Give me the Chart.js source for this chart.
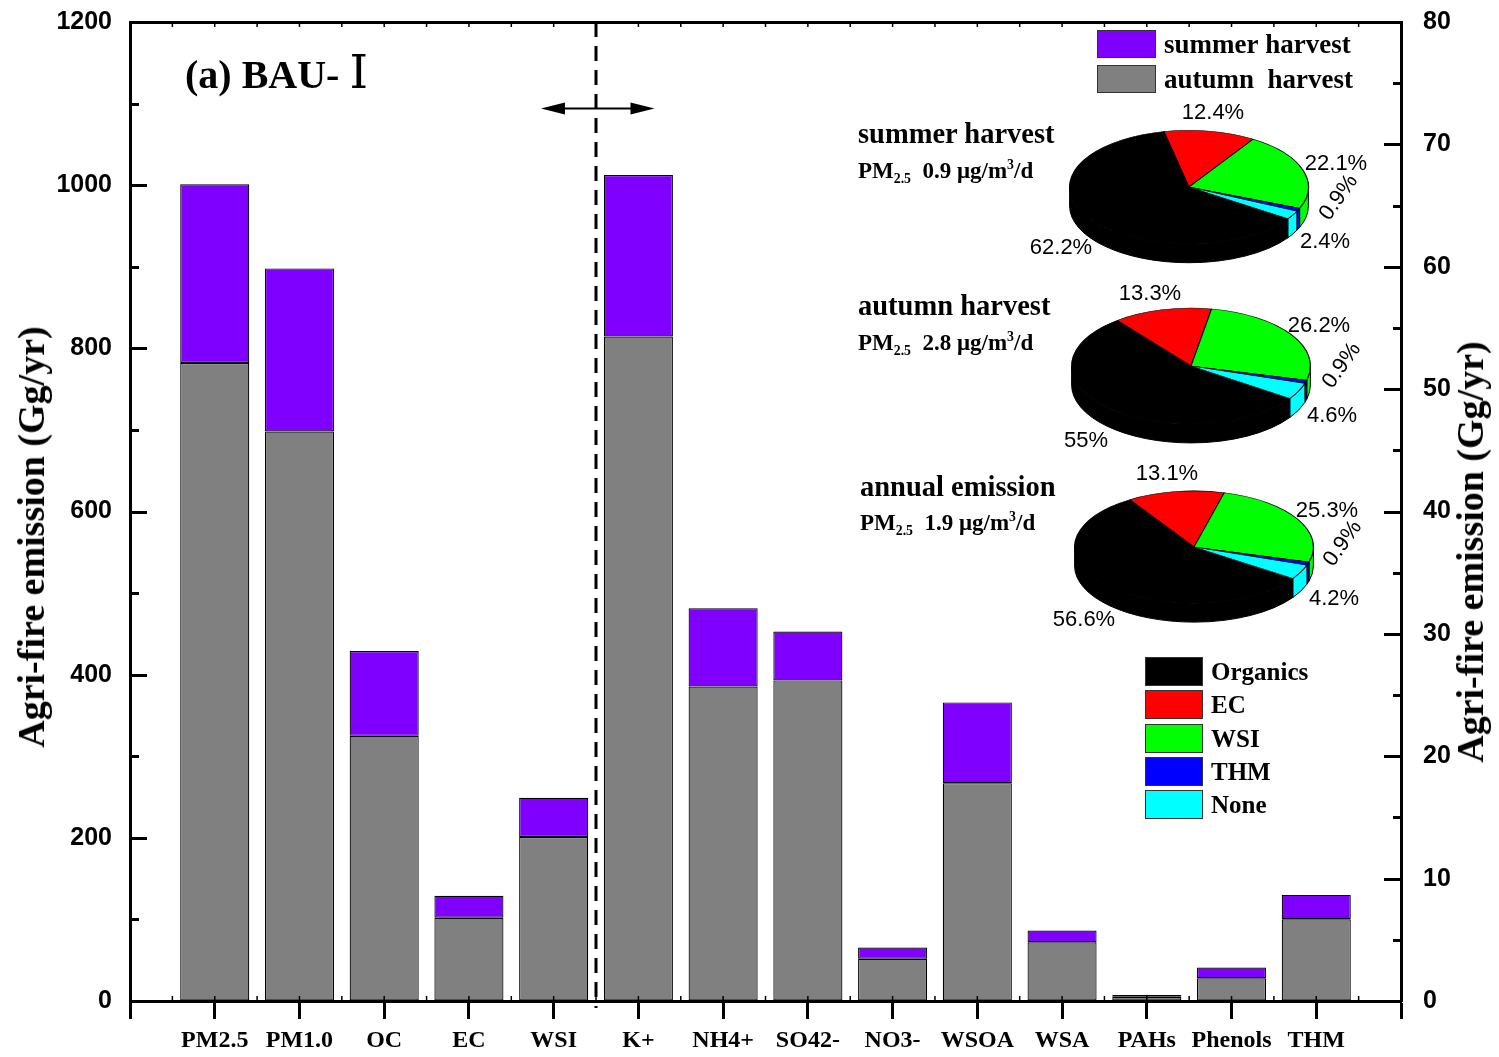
<!DOCTYPE html>
<html><head><meta charset="utf-8">
<script src="https://cdn.jsdelivr.net/npm/chart.js@4.4.0/dist/chart.umd.min.js"></script>
<style>
html,body{margin:0;padding:0;background:#fff;}
#wrap{position:relative;width:1499px;height:1057px;overflow:hidden;background:#fff;}
#main{position:absolute;left:0;top:0;}
.pie{position:absolute;}
.t{position:absolute;white-space:nowrap;color:#000;line-height:1;}
.serif{font-family:"Liberation Serif","Times New Roman",serif;font-weight:bold;}
.sans{font-family:"Liberation Sans",Arial,sans-serif;}
.box{position:absolute;border:1px solid #333;box-sizing:border-box;}
.vc{transform:translateY(-50%);}
sub,sup{font-size:60%;line-height:0;}
.roman{font-family:"DejaVu Serif","Liberation Serif",serif;font-weight:normal;font-size:47px;margin-left:10px;}
</style></head><body><div id="wrap">
<canvas id="main" width="1499" height="1057"></canvas>
<canvas class="pie" id="pie0" width="244" height="244"></canvas>
<canvas class="pie" id="pie1" width="244" height="244"></canvas>
<canvas class="pie" id="pie2" width="244" height="244"></canvas>

<div class="t serif vc" style="left:185px;top:71px;font-size:40px;" id="ttl"></div>

<div class="t serif" id="yt1" style="left:31px;top:537px;font-size:38px;transform:translate(-50%,-50%) rotate(-90deg);"></div>
<div class="t serif" id="yt2" style="left:1470px;top:552px;font-size:38px;transform:translate(-50%,-50%) rotate(-90deg);"></div>

<div id="legendBars"></div>
<div id="legendPie"></div>
<div id="pieText"></div>
</div>
<script>
// ---------------- data ----------------
const categories = ['PM2.5','PM1.0','OC','EC','WSI','K+','NH4+','SO42-','NO3-','WSOA','WSA','PAHs','Phenols','THM'];
const leftAxisCount = 5;               // first 5 categories use the left axis
const autumnHarvest = [782, 698, 325, 102, 201, 54.3, 25.7, 26.2, 3.45, 17.8, 4.8, 0.35, 1.86, 6.68];
const summerHarvest = [219, 200, 104, 27, 48, 13.2, 6.4, 4.0, 0.92, 6.6, 0.96, 0.14, 0.87, 1.99];
const leftAxisRange = [0, 1200];
const leftAxisStep = 200;
const rightAxisRange = [0, 80];
const rightAxisStep = 10;
const seriesNames = ['summer harvest', 'autumn  harvest'];
const titleMain = '(a) BAU-';
const titleRoman = 'Ⅰ';
const yTitle = 'Agri-fire emission (Gg/yr)';

const pieComponents = ['Organics','EC','WSI','THM','None'];
const pieTitles = ['summer harvest','autumn harvest','annual emission'];
const pieConc = ['0.9','2.8','1.9'];
const pieSummer = [62.2, 12.4, 22.1, 0.9, 2.4];
const pieAutumn = [55, 13.3, 26.2, 0.9, 4.6];
const pieAnnual = [56.6, 13.1, 25.3, 0.9, 4.2];
const pieLabelsTxt = [
  ['62.2%','12.4%','22.1%','0.9%','2.4%'],
  ['55%','13.3%','26.2%','0.9%','4.6%'],
  ['56.6%','13.1%','25.3%','0.9%','4.2%']
];
const dividerX = 5.5;
const arrowSpan = [4.85, 6.19];
const arrowLevel = 1095;

// ---------------- styles ----------------
const purple = '#7F00FF', grey = '#808080';
const pieColors = ['#000000','#FF0000','#00FF00','#0000FF','#00FFFF'];

document.getElementById('ttl').innerHTML = titleMain + '<span class="roman">' + titleRoman + '</span>';
document.getElementById('yt1').textContent = yTitle;
document.getElementById('yt2').textContent = yTitle;

const pts = (arr, from, to) => arr.slice(from, to).map((v, i) => ({x: from + i + 1, y: v}));
const barCommon = {grouped:false, borderColor:'#000', borderWidth:1.2, barPercentage:0.815, categoryPercentage:1, borderSkipped:false};
const n = categories.length;

const axisDeco = {
  id:'axisDeco',
  afterDatasetsDraw(chart){
    const ctx = chart.ctx, a = chart.chartArea;
    const sx = chart.scales.x, sy = chart.scales.y, sy2 = chart.scales.y2;
    ctx.save();
    ctx.strokeStyle = '#000';
    ctx.lineWidth = 3;
    for (let v = leftAxisRange[0]; v <= leftAxisRange[1]; v += leftAxisStep/2){
      const y = Math.round(sy.getPixelForValue(v)) + 0.5;
      const len = (v % leftAxisStep === 0) ? 17 : 9;
      ctx.beginPath(); ctx.moveTo(a.left, y); ctx.lineTo(a.left + len, y); ctx.stroke();
    }
    for (let v = rightAxisRange[0]; v <= rightAxisRange[1]; v += rightAxisStep/2){
      const y = Math.round(sy2.getPixelForValue(v)) + 0.5;
      const len = (v % rightAxisStep === 0) ? 17 : 8;
      ctx.beginPath(); ctx.moveTo(a.right, y); ctx.lineTo(a.right - len, y); ctx.stroke();
    }
    ctx.lineWidth = 1.5;
    for (let v = 0.5; v < n + 1; v += 0.5){
      const x = sx.getPixelForValue(v);
      ctx.beginPath(); ctx.moveTo(x, a.top); ctx.lineTo(x, a.top + 5); ctx.stroke();
      ctx.beginPath(); ctx.moveTo(x, a.bottom); ctx.lineTo(x, a.bottom - 5); ctx.stroke();
    }
    const dx = Math.round(sx.getPixelForValue(dividerX));
    ctx.lineWidth = 3;
    ctx.setLineDash([15, 9]);
    ctx.beginPath(); ctx.moveTo(dx, a.top); ctx.lineTo(dx, a.bottom + 7); ctx.stroke();
    ctx.setLineDash([]);
    const ay = Math.round(sy.getPixelForValue(arrowLevel)) + 0.5;
    const x1 = sx.getPixelForValue(arrowSpan[0]), x2 = sx.getPixelForValue(arrowSpan[1]);
    ctx.lineWidth = 2;
    ctx.beginPath(); ctx.moveTo(x1 + 10, ay); ctx.lineTo(x2 - 10, ay); ctx.stroke();
    ctx.fillStyle = '#000';
    ctx.beginPath(); ctx.moveTo(x1, ay); ctx.lineTo(x1 + 24, ay - 6); ctx.lineTo(x1 + 24, ay + 6); ctx.closePath(); ctx.fill();
    ctx.beginPath(); ctx.moveTo(x2, ay); ctx.lineTo(x2 - 24, ay - 6); ctx.lineTo(x2 - 24, ay + 6); ctx.closePath(); ctx.fill();
    ctx.restore();
  }
};

const fixH = h => s => { s.height = h; s.paddingLeft = 0; s.paddingRight = 0; };
const fixW = w => s => { s.width = w; s.paddingTop = 0; s.paddingBottom = 0; };

new Chart(document.getElementById('main'), {
  type:'bar',
  data:{
    datasets:[
      Object.assign({label:seriesNames[1], data:pts(autumnHarvest,0,leftAxisCount), yAxisID:'y', backgroundColor:grey}, barCommon),
      Object.assign({label:seriesNames[0], data:pts(summerHarvest,0,leftAxisCount), yAxisID:'y', backgroundColor:purple}, barCommon),
      Object.assign({label:seriesNames[1]+' ', data:pts(autumnHarvest,leftAxisCount,n), yAxisID:'y2', backgroundColor:grey}, barCommon),
      Object.assign({label:seriesNames[0]+' ', data:pts(summerHarvest,leftAxisCount,n), yAxisID:'y2', backgroundColor:purple}, barCommon)
    ]
  },
  options:{
    responsive:false, animation:false,
    layout:{padding:0},
    plugins:{legend:{display:false}, tooltip:{enabled:false}},
    scales:{
      x:{type:'linear', position:'bottom', min:0, max:n+1, stacked:true, offset:false,
        afterFit:fixH(56),
        ticks:{stepSize:1, autoSkip:false, maxRotation:0, padding:7, color:'#000',
          font:{family:'Liberation Serif', weight:'bold', size:24},
          callback:(v)=> (Number.isInteger(v) && v>=1 && v<=n) ? categories[v-1] : ''},
        grid:{offset:false, drawOnChartArea:false, drawTicks:true, tickLength:18, tickWidth:3, tickColor:'#000', color:'#000'},
        border:{display:true, color:'#000', width:3}},
      xTop:{type:'linear', position:'top', min:0, max:n+1, offset:false,
        afterFit:fixH(22),
        ticks:{display:false}, grid:{display:false, drawTicks:false},
        border:{display:true, color:'#000', width:3}},
      y:{position:'left', min:leftAxisRange[0], max:leftAxisRange[1], stacked:true,
        afterFit:fixW(130),
        ticks:{stepSize:leftAxisStep, padding:18, color:'#000', font:{family:'Liberation Sans', weight:'bold', size:25},
          callback:v=>String(v)},
        grid:{drawOnChartArea:false, drawTicks:false},
        border:{display:true, color:'#000', width:3}},
      y2:{position:'right', min:rightAxisRange[0], max:rightAxisRange[1], stacked:true,
        afterFit:fixW(98),
        ticks:{stepSize:rightAxisStep, padding:22, color:'#000', font:{family:'Liberation Sans', weight:'bold', size:25},
          callback:v=>String(v)},
        grid:{drawOnChartArea:false, drawTicks:false},
        border:{display:true, color:'#000', width:3}}
    }
  },
  plugins:[axisDeco]
});

// ---------------- pies ----------------
const pie3d = {
  id:'pie3d',
  beforeDraw(chart){
    const el = chart.getDatasetMeta(0).data[0]; if(!el) return;
    const s = chart.options.plugins.pie3d.squash;
    const ctx = chart.ctx; ctx.save();
    ctx.translate(el.x, el.y); ctx.scale(1, s); ctx.translate(-el.x, -el.y);
  },
  beforeDatasetsDraw(chart){
    const o = chart.options.plugins.pie3d;
    const ctx = chart.ctx, dpr = chart.currentDevicePixelRatio || 1;
    ctx.save(); ctx.setTransform(dpr,0,0,dpr,0,0);
    const TWO = Math.PI*2;
    chart.getDatasetMeta(0).data.forEach(el => {
      const rx = el.outerRadius, ry = rx*o.squash, D = o.depth;
      for (let k = -1; k <= 2; k++){
        const lo = Math.max(el.startAngle, TWO*k), hi = Math.min(el.endAngle, TWO*k + Math.PI);
        if (hi <= lo) continue;
        ctx.beginPath();
        ctx.ellipse(el.x, el.y, rx, ry, 0, lo, hi);
        ctx.ellipse(el.x, el.y + D, rx, ry, 0, hi, lo, true);
        ctx.closePath();
        ctx.fillStyle = el.options.backgroundColor; ctx.fill();
        ctx.lineWidth = 1; ctx.strokeStyle = '#000'; ctx.stroke();
      }
    });
    ctx.restore();
  },
  afterDraw(chart){ chart.ctx.restore(); }
};
const pieData = [pieSummer, pieAutumn, pieAnnual];
const pieCenters = [[1189,187],[1191,366],[1194,547]];
const pieSquash = [0.475, 0.485, 0.47];
pieData.forEach((d, i) => {
  const cv = document.getElementById('pie'+i);
  cv.style.left = (pieCenters[i][0]-122)+'px';
  cv.style.top = (pieCenters[i][1]-122)+'px';
  new Chart(cv, {
    type:'pie',
    data:{labels:pieComponents, datasets:[{data:d, backgroundColor:pieColors, borderColor:'#000', borderWidth:1.2}]},
    options:{responsive:false, animation:false, rotation:124, layout:{padding:2},
      plugins:{legend:{display:false}, tooltip:{enabled:false}, pie3d:{squash:pieSquash[i], depth:19}}},
    plugins:[pie3d]
  });
});

// ---------------- text / legends ----------------
const lb = document.getElementById('legendBars');
[[purple, seriesNames[0], 30],[grey, seriesNames[1], 65]].forEach(([c, t, y]) => {
  lb.insertAdjacentHTML('beforeend',
    `<div class="box" style="left:1097px;top:${y}px;width:59px;height:28px;background:${c}"></div>`+
    `<div class="t serif vc" style="left:1164px;top:${y+14}px;font-size:27px;">${t.replace(/ /g,'&nbsp;')}</div>`);
});
const lp = document.getElementById('legendPie');
pieComponents.forEach((t, i) => {
  const y = 657 + i*33.3;
  lp.insertAdjacentHTML('beforeend',
    `<div class="box" style="left:1145px;top:${y}px;width:58px;height:29px;background:${pieColors[i]}"></div>`+
    `<div class="t serif vc" style="left:1211px;top:${y+14}px;font-size:25px;">${t}</div>`);
});
const pt = document.getElementById('pieText');
const titleY = [[858,134,170],[858,306,342],[860,487,522]];
pieTitles.forEach((t, i) => {
  const [x, y1, y2] = titleY[i];
  pt.insertAdjacentHTML('beforeend',
    `<div class="t serif vc" style="left:${x}px;top:${y1}px;font-size:28.5px;">${t}</div>`+
    `<div class="t serif vc" style="left:${x}px;top:${y2}px;font-size:23px;">PM<sub>2.5</sub>&nbsp; ${pieConc[i]} μg/m<sup>3</sup>/d</div>`);
});
const pctPos = [
  [[1061,247],[1213,112],[1336,163],[1338,197,-55],[1325,241]],
  [[1086,440],[1150,293],[1319,325],[1341,365,-55],[1332,415]],
  [[1084,619],[1167,473],[1327,510],[1342,543,-55],[1334,598]]
];
pctPos.forEach((arr, i) => arr.forEach((p, j) => {
  const rot = p[2] ? ` rotate(${p[2]}deg)` : '';
  pt.insertAdjacentHTML('beforeend',
    `<div class="t sans" style="left:${p[0]}px;top:${p[1]}px;font-size:22px;transform:translate(-50%,-50%)${rot};">${pieLabelsTxt[i][j]}</div>`);
}));
</script>
</body></html>
